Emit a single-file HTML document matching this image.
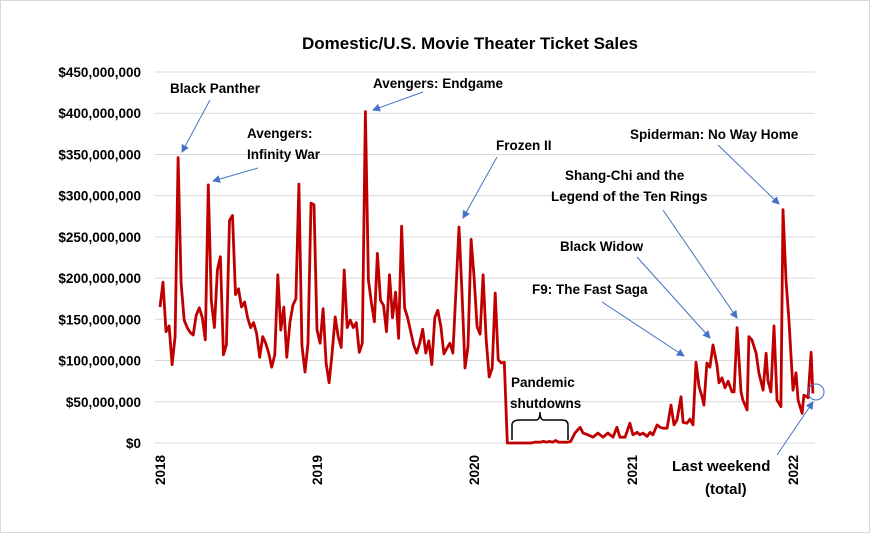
<!DOCTYPE html>
<html><head><meta charset="utf-8"><style>
body{margin:0;background:#fff}
svg{display:block;font-family:"Liberation Sans",sans-serif}
.t{font-weight:bold;font-size:13.5px;fill:#000}
</style></head><body>
<svg id="c" width="870" height="533">
<defs><marker id="ah" markerWidth="8" markerHeight="8" refX="7" refY="4" orient="auto" markerUnits="userSpaceOnUse"><path d="M0,0 L8,4 L0,8 z" fill="#4472C4"/></marker></defs>
<rect x="0.5" y="0.5" width="869" height="532" fill="#fff" stroke="#d9d9d9"/>
<text x="470" y="49" text-anchor="middle" font-size="17" font-weight="bold">Domestic/U.S. Movie Theater Ticket Sales</text>
<g id="grid"></g><g id="ylab"></g><g id="xlab"></g>
<path id="line" fill="none" stroke="#C00000" stroke-width="2.8" stroke-linejoin="round"/>
<g stroke="#4472C4" stroke-width="1" fill="none">
<line x1="210" y1="100" x2="182" y2="152" marker-end="url(#ah)"/>
<line x1="258" y1="168" x2="213" y2="181" marker-end="url(#ah)"/>
<line x1="423" y1="92" x2="373" y2="110" marker-end="url(#ah)"/>
<line x1="497" y1="157" x2="463" y2="218" marker-end="url(#ah)"/>
<line x1="718" y1="145" x2="779" y2="204" marker-end="url(#ah)"/>
<line x1="663" y1="210" x2="737" y2="318" marker-end="url(#ah)"/>
<line x1="637" y1="257" x2="710" y2="338" marker-end="url(#ah)"/>
<line x1="602" y1="302" x2="684" y2="356" marker-end="url(#ah)"/>
<line x1="777" y1="455" x2="813" y2="402" marker-end="url(#ah)"/>
<circle cx="816" cy="392" r="8"/>
</g>
<path d="M512,440 L512,425 Q512,420 520,420 L536,420 Q540,420 540,412 Q540,420 544,420 L562,420 Q568,420 568,425 L568,440" fill="none" stroke="#000" stroke-width="1.5"/>
<g class="t">
<text x="170" y="93" class="t">Black Panther</text>
<text x="247" y="138" class="t">Avengers:</text><text x="247" y="159" class="t">Infinity War</text>
<text x="373" y="88" class="t">Avengers: Endgame</text>
<text x="496" y="150" class="t">Frozen II</text>
<text x="630" y="139" class="t">Spiderman: No Way Home</text>
<text x="565" y="180" class="t">Shang-Chi and the</text><text x="551" y="201" class="t">Legend of the Ten Rings</text>
<text x="560" y="251" class="t">Black Widow</text>
<text x="532" y="294" class="t">F9: The Fast Saga</text>
<text x="511" y="387" class="t">Pandemic</text><text x="510" y="408" class="t">shutdowns</text>
<text x="672" y="471" class="t" style="font-size:15px">Last weekend</text><text x="705" y="494" class="t" style="font-size:15px">(total)</text>
</g>
</svg>
<script>
const sales=[165,195,135,142,95,129,346,194,149,140,134,131,155,164,152,125,313,173,140,210,226,107,119,270,276,180,187,165,171,152,140,146,133,104,129,121,109,92,107,204,137,165,104,146,167,175,314,119,86,121,291,289,137,121,163,97,73,109,153,129,116,210,140,149,140,146,110,121,402,198,170,147,230,173,167,135,204,152,183,127,263,164,152,135,119,109,121,138,109,124,95,152,161,141,108,115,121,109,186,262,182,91,117,247,201,141,132,204,125,80,91,182,101,97,98,
0,0,0,0,0,0,0,0,0,1,1,1,2,1,2,1,3,1,1,1,1,2,
12,19,12,10,7,12,7,12,7,19,7,7,24,10,13,10,12,8,13,10,22,19,18,18,46,22,28,56,25,24,29,22,98,68,56,46,97,92,119,95,73,79,67,75,62,62,140,62,52,40,129,125,109,85,64,109,76,62,142,52,44,283,198,146,64,85,52,36,58,55,110,60];
const lateWeeks=[137.4,139.1,140.1,141.7,143.4,145.0,146.7,148.3,150.0,151.3,152.3,154.0,155.6,156.6,158.0,158.9,159.9,161.3,162.3,163.2,164.6,165.6,166.6,167.9,169.2,170.2,171.2,172.5,173.2,174.5,175.5,176.5,177.5,178.5,179.5,180.1,181.1,182.1,183.1,184.4,185.1,186.1,187.1,188.1,189.4,190.1,191.1,192.4,193.0,194.4,195.0,196.0,197.4,198.3,199.7,200.7,201.3,202.3,203.3,204.3,205.6,206.3,207.3,208.3,209.6,210.6,211.3,212.6,213.2,214.6,215.6,216.2];
const yTicks=[0,50,100,150,200,250,300,350,400,450];
const yLabels=["$0","$50,000,000","$100,000,000","$150,000,000","$200,000,000","$250,000,000","$300,000,000","$350,000,000","$400,000,000","$450,000,000"];
const years=["2018","2019","2020","2021","2022"];
const yearWeeks=[0,52,104,156.3,209.6];
const NS='http://www.w3.org/2000/svg';
const X=w=>160+w*3.02, Y=v=>443-v*371/450;
const weeks=sales.map((v,i)=>i<sales.length-lateWeeks.length?i:lateWeeks[i-(sales.length-lateWeeks.length)]);
const grid=document.getElementById('grid'),yl=document.getElementById('ylab'),xl=document.getElementById('xlab');
yTicks.forEach((t,i)=>{
 const l=document.createElementNS(NS,'line');
 l.setAttribute('x1',155);l.setAttribute('x2',815);l.setAttribute('y1',Y(t));l.setAttribute('y2',Y(t));
 l.setAttribute('stroke','#d9d9d9');
 
 
 grid.appendChild(l);
 const tx=document.createElementNS(NS,'text');
 tx.setAttribute('x',141);tx.setAttribute('y',Y(t)+5);tx.setAttribute('text-anchor','end');tx.setAttribute('class','t');
 tx.textContent=yLabels[i];
 
 
 yl.appendChild(tx);
});
years.forEach((y,i)=>{
 const tx=document.createElementNS(NS,'text');
 const x=X(yearWeeks[i])+5;
 tx.setAttribute('transform','translate('+x+',455) rotate(-90)');
 tx.setAttribute('text-anchor','end');tx.setAttribute('class','t');
 tx.textContent=y;
 
 
 xl.appendChild(tx);
});
document.getElementById('line').setAttribute('d',sales.map((v,i)=>(i?'L':'M')+X(weeks[i]).toFixed(1)+','+Y(v).toFixed(1)).join(' '));
</script>
</body></html>
